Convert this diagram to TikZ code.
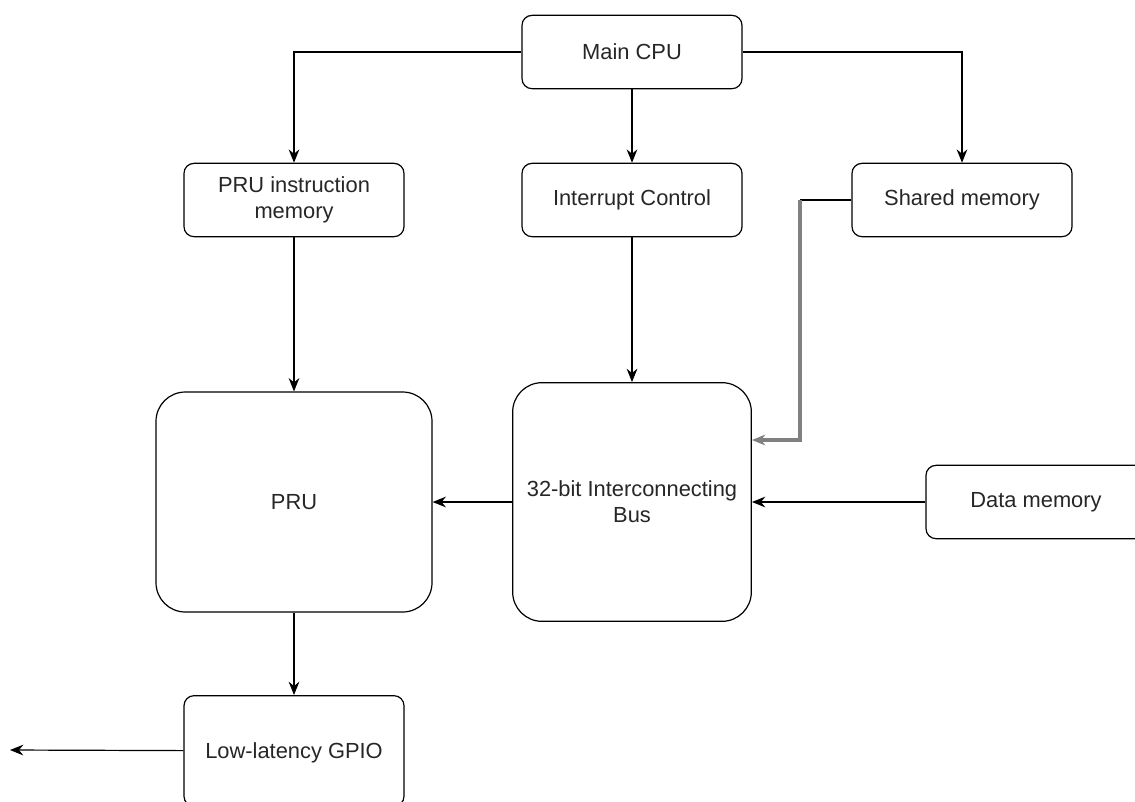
\documentclass[tikz,border=0pt]{standalone}
\usepackage{fontspec}
\setmainfont{Liberation Sans}
\usetikzlibrary{arrows.meta}

\begin{document}
\begin{tikzpicture}[x=0.75pt, y=-0.75pt, >={Stealth[length=10pt,width=8pt]}, line width=0.9pt,
    box/.style={draw, rounded corners=7.5pt, minimum width=165pt, minimum height=55pt,
      align=center, inner sep=2pt, text=black!85, font=\fontsize{16.4}{19.5}\selectfont},
    bigbox/.style={box, rounded corners=22pt}]
        \useasboundingbox (0,0) rectangle (1135,801);
        \clip (0,0) rectangle (1135,801);
        \node[box] (cpu) at (632,52) {Main CPU};
        \node[box] (instmem) at (294,200) {PRU instruction\\memory};
        \node[box] (intctrl) at (632,200) {Interrupt Control};
        \node[box] (shmem) at (962,200) {Shared memory};
        \node[bigbox, minimum width=207pt, minimum height=165pt] (pru) at (294,502) {PRU};
        \node[bigbox, minimum width=179pt, minimum height=179pt] (bus) at (632,502) {32-bit Interconnecting\\Bus};
        \node[box] (datamem) at (1036,502) {Data memory};
        \node[box, minimum height=83pt, text depth=0pt] (gpio) at (294,751) {Low-latency GPIO};
        \coordinate (bend) at (800,200);
        \coordinate (out) at (10,750);
        % connectors
        \draw[->] (cpu.west) -| (instmem.north);
        \draw[->] (cpu.south) -- (intctrl.north);
        \draw[->] (cpu.east) -| (shmem.north);
        \draw[->] (instmem) -- (pru);
        \draw[->] (intctrl) -- (bus);
        \draw (shmem.west) -- (bend);
        \draw[->, draw=black!50, line width=2.4pt] (bend) |- ([yshift=46.5pt]bus.east);
        \draw[->] (datamem) -- (bus);
        \draw[->] (bus) -- (pru);
        \draw[->] (pru) -- (gpio);
        \draw[->] (gpio) -- (out);
      \end{tikzpicture}
\end{document}
